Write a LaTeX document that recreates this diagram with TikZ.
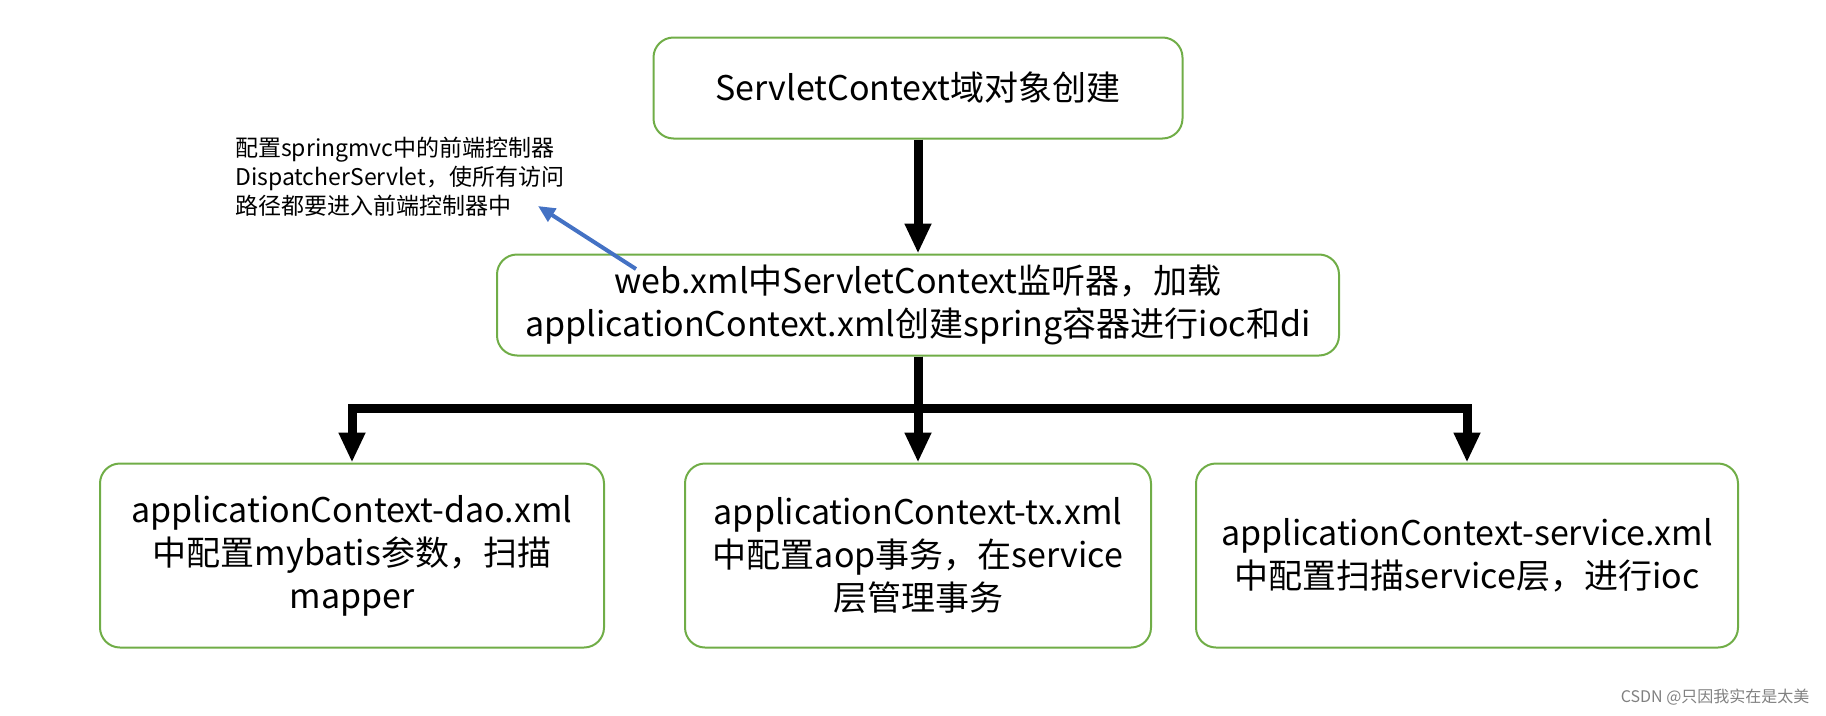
\documentclass[tikz,border=0pt]{standalone}
\usepackage{fontspec}
\setmainfont{Noto Sans CJK SC}
\definecolor{green}{RGB}{112, 173, 71}
\definecolor{blue}{RGB}{68, 114, 196}
\usepackage{tikz}
\usetikzlibrary{arrows.meta}
\usetikzlibrary{positioning}
\tikzset{
    arrow/.style={-{Triangle[width=25pt, length=30pt]}, line width=9pt},
    notearrow/.style={-{Triangle[width=15pt, length=17pt]}, line width=4pt, draw=blue},
    box/.style = {
      rounded corners=20pt,
      rectangle,
      draw=green,
      line width=2pt,
      align=center,
      font=\fontsize{34}{43}\selectfont
    },
    note/.style = {
      align=left,
      inner sep=0pt,
      font=\fontsize{23}{29}\selectfont
    },
}

\begin{document}
\begin{tikzpicture}[x=1pt, y=-1pt]
      \useasboundingbox (0,0) rectangle (1826,715);

      \node[box, minimum width=529pt, minimum height=101pt] (servletcontext) at (918,88) {ServletContext域对象创建};
      \node[box, below=114pt of servletcontext, minimum width=842pt, minimum height=101pt] (webxml) {web.xml中ServletContext监听器，加载\\applicationContext.xml创建spring容器进行ioc和di};
      \node[box, below=106pt of webxml, minimum width=466pt, minimum height=184pt] (txxml) {applicationContext-tx.xml\\中配置aop事务，在service\\层管理事务};
      \node[box, left=79pt of txxml, minimum width=504pt, minimum height=184pt] (daoxml) {applicationContext-dao.xml\\中配置mybatis参数，扫描\\mapper};
      \node[box, right=43pt of txxml, minimum width=542pt, minimum height=184pt] (servicexml) {applicationContext-service.xml\\中配置扫描service层，进行ioc};

      \draw[arrow] (servletcontext) -- (webxml);
      \draw[arrow] (webxml) -- (txxml);
      \draw[arrow] (webxml.south) -- ++(0,52) -| (daoxml.north);
      \draw[arrow] (webxml.south) -- ++(0,52) -| (servicexml.north);

      \node[note, anchor=west] (dispatcher) at (235,177) {配置springmvc中的前端控制器\\DispatcherServlet，使所有访问\\路径都要进入前端控制器中};
      \coordinate (notestart) at (636,269);
      \coordinate (noteend) at (538,206);
      \draw[notearrow] (notestart) -- (noteend);

      \node[anchor=east, text=gray, font=\fontsize{16}{16}\selectfont] (watermark) at (1813,697) {CSDN @只因我实在是太美};
    \end{tikzpicture}
\end{document}
